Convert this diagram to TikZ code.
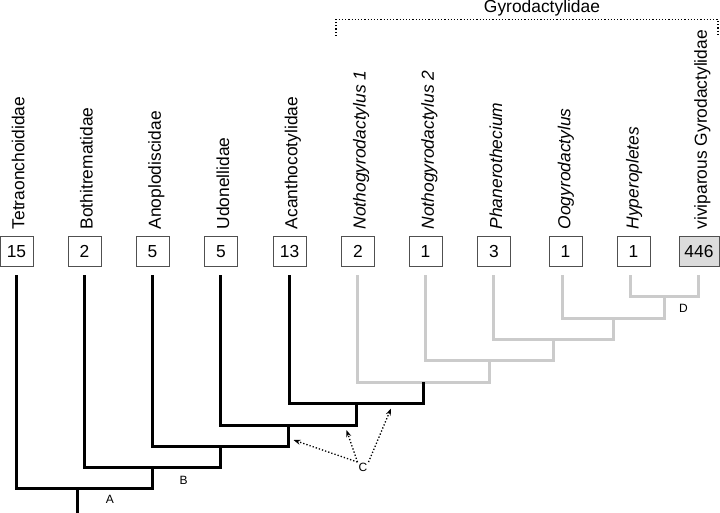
\documentclass[tikz,border=0pt]{standalone}
\usepackage{fontspec}
\setmainfont{Liberation Sans}
\usetikzlibrary{arrows.meta}
\definecolor{lgray}{HTML}{CBCBCB}
\definecolor{boxgray}{HTML}{DCDCDC}
\definecolor{boxline}{HTML}{505050}
\begin{document}
\begin{tikzpicture}[x=1pt,y=-1pt,
  lbl/.style={rotate=90,anchor=base west,inner sep=0pt,font=\fontsize{17.4}{20}\selectfont},
  ilbl/.style={lbl,font=\fontsize{17.4}{20}\selectfont\itshape},
  num/.style={draw=boxline,line width=0.9pt,fill=white,minimum width=33pt,minimum height=30pt,inner sep=0pt,font=\fontsize{17.4}{20}\selectfont},
  blk/.style={line width=3pt,black,line join=miter},
  gry/.style={line width=3pt,lgray,line join=miter},
  tag/.style={inner sep=1pt,font=\fontsize{12}{14}\selectfont},
  arr/.style={dotted,line width=1.3pt,-{Stealth[length=7pt,width=5pt]}},
  brk/.style={dotted,line width=1.2pt}]
\useasboundingbox (0,0) rectangle (720,513);

% title and bracket
\node[font=\fontsize{17.4}{20}\selectfont,inner sep=0pt] (gyro) at (542,8.5) {Gyrodactylidae};
\coordinate (gL) at (336,36);
\coordinate (gR) at (718,36);
\draw[brk] (gL) |- (527,19.5) -| (gR);

% rotated labels
\node[lbl]  (t0)  at (24.3,229.5)  {Tetraonchoididae};
\node[lbl]  (t1)  at (92.5,229.5)  {Bothitrematidae};
\node[lbl]  (t2)  at (160.8,229.5) {Anoplodiscidae};
\node[lbl]  (t3)  at (229,229.5)   {Udonellidae};
\node[lbl]  (t4)  at (297.3,229.5) {Acanthocotylidae};
\node[ilbl] (t5)  at (365.5,229.5) {Nothogyrodactylus 1};
\node[ilbl] (t6)  at (433.8,229.5) {Nothogyrodactylus 2};
\node[ilbl] (t7)  at (502,229.5)   {Phanerothecium};
\node[ilbl] (t8)  at (570.3,229.5) {Oogyrodactylus};
\node[ilbl] (t9)  at (638.5,229.5) {Hyperopletes};
\node[lbl]  (t10) at (706.8,229.5) {viviparous Gyrodactylidae};

% boxes
\node[num] (b0)  at (16.5,251.5)  {15};
\node[num] (b1)  at (84.5,251.5)  {2};
\node[num] (b2)  at (152.5,251.5) {5};
\node[num] (b3)  at (221,251.5)   {5};
\node[num] (b4)  at (289.5,251.5) {13};
\node[num] (b5)  at (358,251.5)   {2};
\node[num] (b6)  at (425.5,251.5) {1};
\node[num] (b7)  at (494,251.5)   {3};
\node[num] (b8)  at (565.5,251.5) {1};
\node[num] (b9)  at (633.5,251.5) {1};
\node[num,fill=boxgray,minimum width=40pt] (b10) at (699,251.5) {446};

% leaf tops
\coordinate (l0)  at (16,275);
\coordinate (l1)  at (84.25,275);
\coordinate (l2)  at (152.5,275);
\coordinate (l3)  at (220.75,275);
\coordinate (l4)  at (289,275);
\coordinate (l5)  at (357.25,275);
\coordinate (l6)  at (425.5,275);
\coordinate (l7)  at (493.75,275);
\coordinate (l8)  at (562,275);
\coordinate (l9)  at (630.25,275);
\coordinate (l10) at (698.5,275);

% internal nodes
\coordinate (nD) at (664.4,296.7);
\coordinate (nE) at (613.2,318.1);
\coordinate (nF) at (553.5,339.5);
\coordinate (nG) at (489.5,360.9);
\coordinate (nH) at (423.4,382.3);
\coordinate (nI) at (356.2,403.7);
\coordinate (nJ) at (288.5,425.1);
\coordinate (nK) at (220.5,446.5);
\coordinate (nL) at (152.4,467.9);
\coordinate (nM) at (77,488.8);
\coordinate (root) at (77,514);

% grey clades
\draw[gry] (l9) |- (nD) -| (l10);
\draw[gry] (l8) |- (nE) -| (nD);
\draw[gry] (l7) |- (nF) -| (nE);
\draw[gry] (l6) |- (nG) -| (nF);
\draw[gry] (l5) |- (nH) -| (nG);
% black clades
\draw[blk] (l4) |- (nI) -| (nH);
\draw[blk] (l3) |- (nJ) -| (nI);
\draw[blk] (l2) |- (nK) -| (nJ);
\draw[blk] (l1) |- (nL) -| (nK);
\draw[blk] (l0) |- (nM) -| (nL);
\draw[blk] (nM) -- (root);

% tags
\node[tag] (A) at (110,499.5) {A};
\node[tag] (B) at (183.5,480) {B};
\node[tag] (C) at (363,467.5) {C};
\node[tag] (D) at (683.5,308) {D};

% arrows from C
\coordinate (a1) at (293.5,440);
\coordinate (a2) at (346.5,430);
\coordinate (a3) at (391,408.5);
\draw[arr] (C.north west) -- (a1);
\draw[arr] (C.north west) -- (a2);
\draw[arr] (C.north east) -- (a3);
\end{tikzpicture}
\end{document}
